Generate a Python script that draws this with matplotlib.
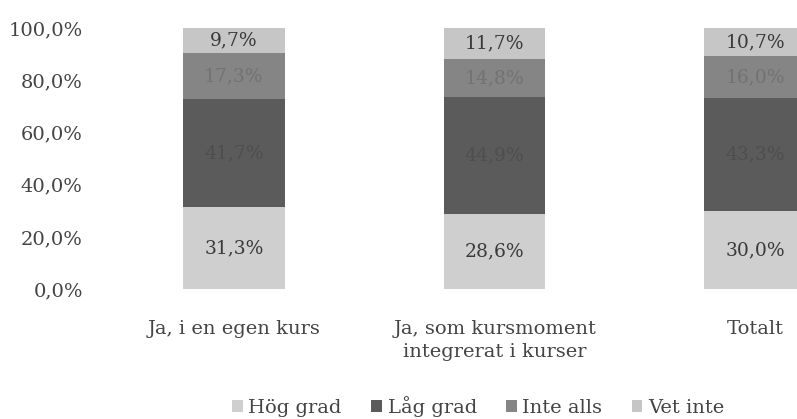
import matplotlib.pyplot as plt
import numpy as np

plt.rcParams['font.family'] = ['DejaVu Serif']

categories = ["Ja, i en egen kurs", "Ja, som kursmoment\nintegrerat i kurser", "Totalt"]
series = ["Hög grad", "Låg grad", "Inte alls", "Vet inte"]
hog = [31.3, 28.6, 30.0]
lag = [41.7, 44.9, 43.3]
inte = [17.3, 14.8, 16.0]
vet = [9.7, 11.7, 10.7]
yticks = [0, 20, 40, 60, 80, 100]

colors = ["#cfcfcf", "#5b5b5b", "#858585", "#c6c6c6"]
text_colors = ["#3a3a3a", "#4e4e4e", "#727272", "#3a3a3a"]

fig = plt.figure(figsize=(7.97, 4.19), dpi=100)
ax = fig.add_axes([0.130, 0.310, 0.870, 0.623])

x = np.arange(len(categories))
bottom = np.zeros(len(categories))
handles = []
for name, vals, c, tc in zip(series, [hog, lag, inte, vet], colors, text_colors):
    vals = np.array(vals)
    bars = ax.bar(x, vals, width=0.39, bottom=bottom, color=c, label=name)
    handles.append(bars)
    for xi, b, v in zip(x, bottom, vals):
        ax.text(xi, b + v / 2, f"{v:.1f}%".replace(".", ","), ha="center", va="center",
                fontsize=13.5, color=tc)
    bottom += vals

ax.set_xlim(-0.5, 2.16)
ax.set_ylim(0, 100)
ax.set_yticks(yticks)
ax.set_yticklabels([f"{t:.1f}%".replace(".", ",") for t in yticks], fontsize=14, color="#444444")
ax.set_xticks(x)
ax.set_xticklabels(categories, fontsize=14, color="#444444", linespacing=1.35)
ax.tick_params(length=0, axis="y", pad=15)
ax.tick_params(length=0, axis="x", pad=22)
for s in ax.spines.values():
    s.set_visible(False)

fig.legend(handles=handles, loc="center", bbox_to_anchor=(0.60, 0.03), ncol=4, frameon=False,
           fontsize=14, handlelength=0.55, handleheight=0.55, handletextpad=0.3, columnspacing=1.5,
           labelcolor="#444444")

fig.savefig("out.png", dpi=100)
